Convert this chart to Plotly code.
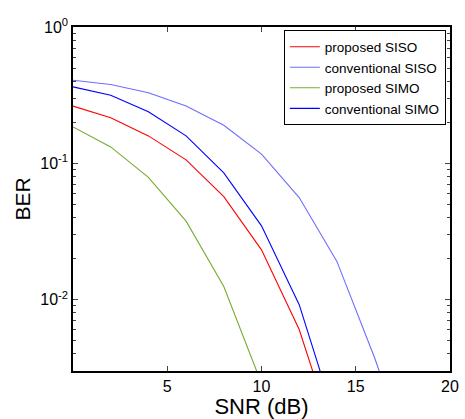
import plotly.graph_objects as go
import numpy as np

snr = [0, 2, 4, 6, 8, 10, 12, 14, 16, 18]
proposed_siso = [0.263, 0.216, 0.159, 0.106, 0.057, 0.0232, 0.00604, 0.00085]
conventional_siso = [0.407, 0.379, 0.329, 0.263, 0.190, 0.117, 0.0561, 0.0191, 0.00375, 0.0006]
proposed_simo = [0.185, 0.132, 0.079, 0.0377, 0.0125, 0.00243]
conventional_simo = [0.364, 0.316, 0.239, 0.159, 0.0851, 0.0348, 0.0092, 0.00122]

x_ticks = [5, 10, 15, 20]
x_text = ["5", "10", "15", "20"]

series = [
    ("proposed SISO", proposed_siso, "#FF0000"),
    ("conventional SISO", conventional_siso, "#6E6EFF"),
    ("proposed SIMO", proposed_simo, "#77AC30"),
    ("conventional SIMO", conventional_simo, "#0000FF"),
]

font = "Liberation Sans, Arial, sans-serif"
fig = go.Figure()
for name, vals, col in series:
    fig.add_trace(go.Scatter(x=snr[:len(vals)], y=vals, mode="lines", name=name,
                             line=dict(color=col, width=1.1)))

y_ticks = [1, 0.1, 0.01]
y_text = ["10<sup>0</sup>", "10<sup>-1</sup>", "10<sup>-2</sup>"]
minor_vals = [m * 10.0 ** k for k in (-3, -2, -1) for m in range(2, 10)]

fig.update_layout(
    width=465, height=419,
    margin=dict(l=73, r=15, t=27, b=48),
    paper_bgcolor="white", plot_bgcolor="white",
    font=dict(family=font, color="black"),
    showlegend=True,
    legend=dict(x=0.989, y=0.99, xanchor="right", yanchor="top",
                bordercolor="black", borderwidth=1, bgcolor="white",
                font=dict(size=13.5, family=font), tracegroupgap=0,
                itemwidth=30),
    xaxis=dict(range=[0, 20], tickmode="array", tickvals=x_ticks, ticktext=x_text,
               ticks="inside", ticklen=5,
               showline=True, linecolor="black", linewidth=1.5, mirror="ticks",
               showgrid=False, zeroline=False, tickfont=dict(size=16), automargin=False,
               title=dict(text="\u00a0\u00a0SNR (dB)", font=dict(size=22), standoff=0)),
    yaxis=dict(type="log", range=[np.log10(0.003), 0], tickmode="array",
               tickvals=y_ticks, ticktext=y_text,
               ticks="inside", ticklen=5, showline=True, linecolor="black", linewidth=1.5,
               mirror="ticks", showgrid=False, zeroline=False, tickfont=dict(size=16),
               automargin=False,
               minor=dict(tickvals=minor_vals, ticks="inside", ticklen=3, showgrid=False),
               title=dict(text="BER", font=dict(size=21), standoff=4)),
)

fig.write_html("out.html", config={"displayModeBar": False},
               post_script="document.body.style.margin='0px';")
